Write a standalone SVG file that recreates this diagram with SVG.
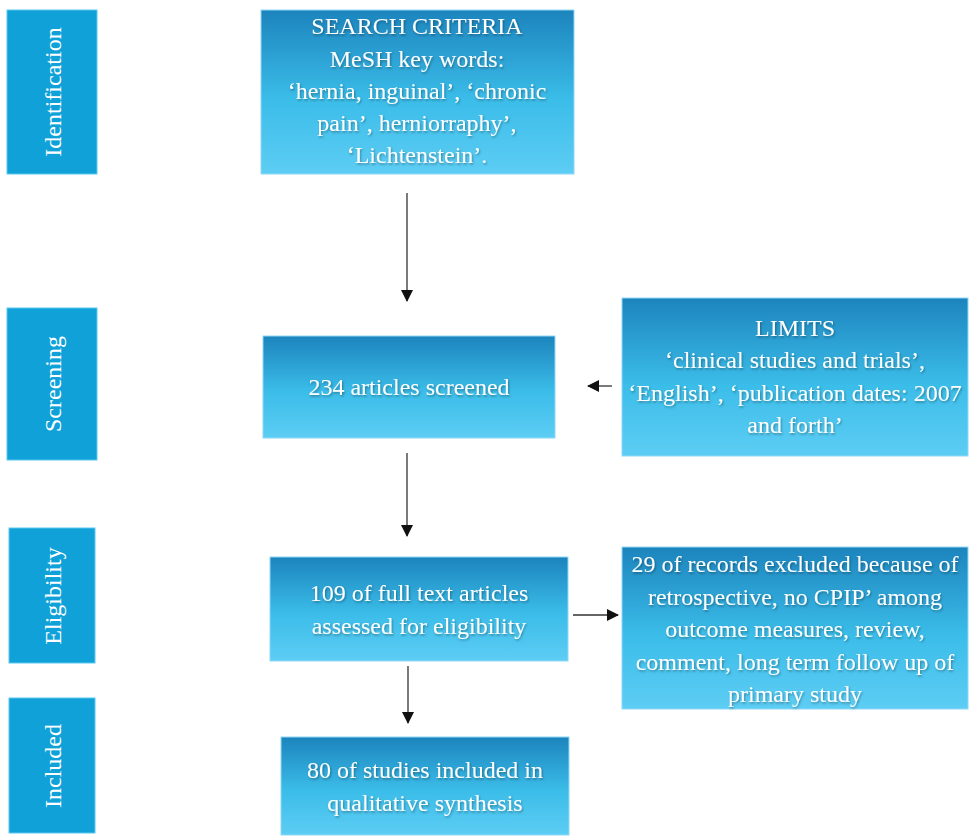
<svg xmlns="http://www.w3.org/2000/svg" width="969" height="836" viewBox="0 0 969 836">
<defs>
<linearGradient id="g" x1="0" y1="0" x2="0" y2="1">
<stop offset="0" stop-color="#1c84bd"/>
<stop offset="0.55" stop-color="#3bbde9"/>
<stop offset="1" stop-color="#5dcdf4"/>
</linearGradient>
<filter id="sh" x="-10%" y="-10%" width="120%" height="130%">
<feDropShadow dx="1" dy="1.5" stdDeviation="0.8" flood-color="#000" flood-opacity="0.35"/>
</filter>
<marker id="ah" markerWidth="12" markerHeight="12" refX="11" refY="6" orient="auto" markerUnits="userSpaceOnUse">
<path d="M0,0 L12,6 L0,12 Z" fill="#111"/>
</marker>
</defs>
<style>
.side{fill:#0fa1d8;stroke:#5cc8ef;stroke-width:1}
.box{fill:url(#g);stroke:#8fd8f5;stroke-width:1}
.t{font-family:"Liberation Serif","Times New Roman",serif;font-size:24px;fill:#fff;text-anchor:middle;filter:url(#sh)}
.st{font-family:"Liberation Serif","Times New Roman",serif;font-size:24px;fill:#fff;text-anchor:middle}
.c{stroke:#333;stroke-width:1.3;fill:none;marker-end:url(#ah)}
</style>
<rect width="969" height="836" fill="#fff"/>
<g id="side-identification">
<rect class="side" x="7" y="10" width="90" height="164"/>
<text class="st" transform="translate(61,92) rotate(-90)">Identification</text>
</g>
<g id="side-screening">
<rect class="side" x="7" y="308" width="90" height="152"/>
<text class="st" transform="translate(61,384) rotate(-90)">Screening</text>
</g>
<g id="side-eligibility">
<rect class="side" x="9" y="528" width="86" height="135"/>
<text class="st" transform="translate(61,596) rotate(-90)">Eligibility</text>
</g>
<g id="side-included">
<rect class="side" x="9" y="698" width="86" height="135"/>
<text class="st" transform="translate(61,766) rotate(-90)">Included</text>
</g>
<g id="search">
<rect class="box" x="261" y="10" width="313" height="164"/>
<text class="t" x="417" y="34">SEARCH CRITERIA</text>
<text class="t" x="417" y="67">MeSH key words:</text>
<text class="t" x="417" y="99">‘hernia, inguinal’, ‘chronic</text>
<text class="t" x="417" y="131">pain’, herniorraphy’,</text>
<text class="t" x="417" y="163">‘Lichtenstein’.</text>
</g>
<g id="screened">
<rect class="box" x="263" y="336" width="292" height="102"/>
<text class="t" x="409" y="395">234 articles screened</text>
</g>
<g id="limits">
<rect class="box" x="622" y="298" width="346" height="158"/>
<text class="t" x="795" y="336">LIMITS</text>
<text class="t" x="795" y="368">‘clinical studies and trials’,</text>
<text class="t" x="795" y="401">‘English’, ‘publication dates: 2007</text>
<text class="t" x="795" y="433">and forth’</text>
</g>
<g id="eligibility">
<rect class="box" x="270" y="557" width="298" height="104"/>
<text class="t" x="419" y="601">109 of full text articles</text>
<text class="t" x="419" y="634">assessed for eligibility</text>
</g>
<g id="excluded">
<rect class="box" x="622" y="547" width="346" height="162"/>
<text class="t" x="795" y="572">29 of records excluded because of</text>
<text class="t" x="795" y="605">retrospective, no CPIP’ among</text>
<text class="t" x="795" y="637">outcome measures, review,</text>
<text class="t" x="795" y="670">comment, long term follow up of</text>
<text class="t" x="795" y="702">primary study</text>
</g>
<g id="included">
<rect class="box" x="281" y="737" width="288" height="98"/>
<text class="t" x="425" y="778">80 of studies included in</text>
<text class="t" x="425" y="811">qualitative synthesis</text>
</g>
<g id="connectors">
<line class="c" x1="407" y1="193" x2="407" y2="301"/>
<line class="c" x1="407" y1="453" x2="407" y2="536"/>
<line class="c" x1="408" y1="666" x2="408" y2="723"/>
<line class="c" x1="612" y1="386" x2="588" y2="386"/>
<line class="c" x1="573" y1="615" x2="618" y2="615"/>
</g>
</svg>
